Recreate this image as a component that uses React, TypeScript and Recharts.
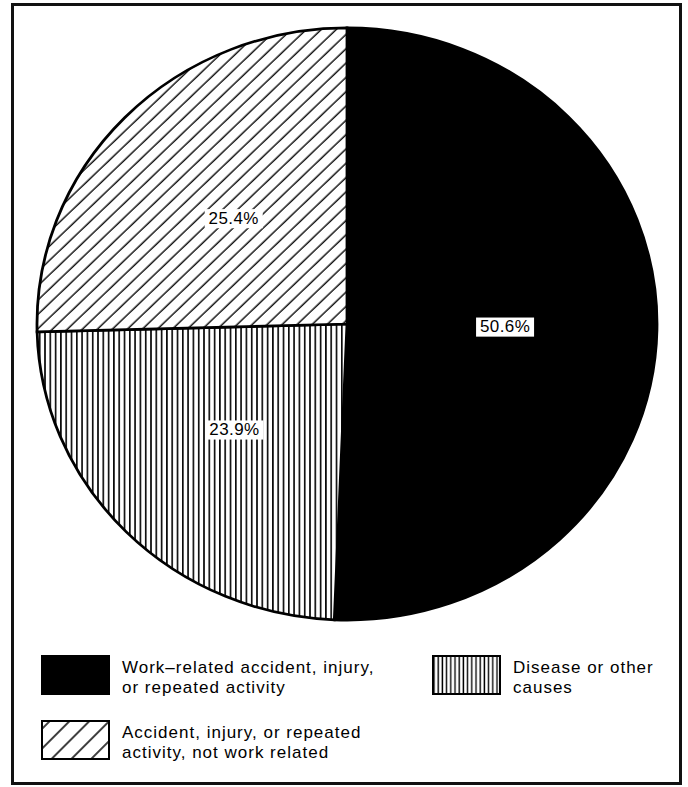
import { Cell, Pie, PieChart } from "recharts";

const causes = [
  "Work–related accident, injury, or repeated activity",
  "Disease or other causes",
  "Accident, injury, or repeated activity, not work related"
];
const shares = [50.6, 23.9, 25.4];
const fills = ["#000", "url(#vstripes)", "url(#hatch)"];
const legendFills = ["#000", "url(#lg-vstripes)", "url(#lg-hatch)"];
const legendLines = [
  ["Work–related accident, injury,", "or repeated activity"],
  ["Disease or other", "causes"],
  ["Accident, injury, or repeated", "activity, not work related"]
];

const data = causes.map((name, i) => ({ name, value: shares[i] }));

const FONT = "'Liberation Sans', Arial, Helvetica, sans-serif";
const RAD = Math.PI / 180;

function renderLabel(props: any) {
  const { cx, cy, midAngle, outerRadius, value } = props;
  const r = outerRadius * 0.51;
  const x = cx + r * Math.cos(-midAngle * RAD);
  const y = cy + r * Math.sin(-midAngle * RAD);
  return (
    <g>
      <rect x={x - 29} y={y - 10} width={58} height={20} fill="#fff" />
      <text
        x={x}
        y={y}
        textAnchor="middle"
        dominantBaseline="central"
        fontSize={17}
        fontFamily={FONT}
        letterSpacing={0.4}
        fill="#000"
      >
        {value.toFixed(1)}%
      </text>
    </g>
  );
}

function Swatch({ index }: { index: number }) {
  return (
    <svg width={69} height={40} style={{ display: "block", flexShrink: 0 }}>
      <defs>
        <pattern id="lg-vstripes" width={4.2} height={10} patternUnits="userSpaceOnUse">
          <rect width={4.2} height={10} fill="#fff" />
          <line x1={2} y1={0} x2={2} y2={10} stroke="#000" strokeWidth={1.4} />
        </pattern>
        <pattern
          id="lg-hatch"
          width={14}
          height={14}
          patternUnits="userSpaceOnUse"
          patternTransform="rotate(45)"
        >
          <rect width={14} height={14} fill="#fff" />
          <line x1={7} y1={0} x2={7} y2={14} stroke="#000" strokeWidth={1.5} />
        </pattern>
      </defs>
      <rect x={1} y={1} width={67} height={38} fill={legendFills[index]} stroke="#000" strokeWidth={2} />
    </svg>
  );
}

const legendSpots = [
  { left: 41, top: 655 },
  { left: 432, top: 655 },
  { left: 41, top: 720 }
];

export default function App() {
  return (
    <div style={{ position: "absolute", left: 0, top: 0, width: 688, height: 787, background: "#fff" }}>
      <div
        style={{
          position: "absolute",
          left: 11,
          top: 3,
          width: 671,
          height: 782,
          boxSizing: "border-box",
          border: "3px solid #111"
        }}
      />
      <div
        style={{
          position: "absolute",
          left: 0,
          top: 0,
          width: 688,
          height: 650,
          transform: "scaleY(0.955)",
          transformOrigin: "347px 324px"
        }}
      >
        <PieChart width={688} height={650} margin={{ top: 0, right: 0, bottom: 0, left: 0 }}>
          <defs>
            <pattern id="vstripes" width={5.3} height={10} patternUnits="userSpaceOnUse">
              <rect width={5.3} height={10} fill="#fff" />
              <line x1={2.6} y1={0} x2={2.6} y2={10} stroke="#000" strokeWidth={1.6} />
            </pattern>
            <pattern
              id="hatch"
              width={10.6}
              height={10.6}
              patternUnits="userSpaceOnUse"
              patternTransform="rotate(45)"
            >
              <rect width={10.6} height={10.6} fill="#fff" />
              <line x1={5} y1={0} x2={5} y2={10.6} stroke="#000" strokeWidth={1.4} />
            </pattern>
          </defs>
          <Pie
            data={data}
            dataKey="value"
            nameKey="name"
            cx={347}
            cy={324}
            outerRadius={310}
            startAngle={90}
            endAngle={-270}
            stroke="#000"
            strokeWidth={2.8}
            label={renderLabel}
            labelLine={false}
            isAnimationActive={false}
          >
            {data.map((d, i) => (
              <Cell key={d.name} fill={fills[i]} />
            ))}
          </Pie>
        </PieChart>
      </div>
      {legendLines.map((lines, i) => (
        <div
          key={causes[i]}
          style={{ position: "absolute", left: legendSpots[i].left, top: legendSpots[i].top, display: "flex" }}
        >
          <Swatch index={i} />
          <div
            style={{
              marginLeft: 12,
              marginTop: 3,
              fontFamily: FONT,
              fontSize: 17,
              lineHeight: "20px",
              letterSpacing: 1,
              color: "#000",
              whiteSpace: "nowrap"
            }}
          >
            {lines.map((l) => (
              <div key={l}>{l}</div>
            ))}
          </div>
        </div>
      ))}
    </div>
  );
}
